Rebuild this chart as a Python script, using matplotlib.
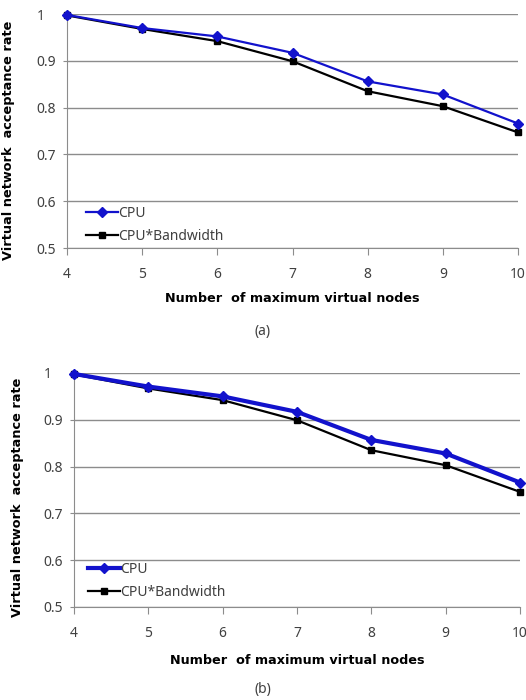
import matplotlib
matplotlib.use("Agg")
from matplotlib import pyplot as plt

# number of maximum virtual nodes
nodes = [4, 5, 6, 7, 8, 9, 10]
# acceptance rate, panel (a)
cpu_a = [0.998, 0.970, 0.952, 0.917, 0.856, 0.828, 0.766]
cpu_bw_a = [0.997, 0.968, 0.942, 0.899, 0.835, 0.803, 0.747]
# acceptance rate, panel (b)
cpu_b = [0.998, 0.971, 0.950, 0.917, 0.857, 0.828, 0.766]
cpu_bw_b = [0.997, 0.967, 0.942, 0.899, 0.835, 0.803, 0.746]
yticks = [0.5, 0.6, 0.7, 0.8, 0.9, 1]
ytick_labels = ["0.5", "0.6", "0.7", "0.8", "0.9", "1"]

W, H = 526, 700
plt.rcParams['font.family'] = ['Noto Sans', 'DejaVu Sans']
fig = plt.figure(figsize=(W / 100, H / 100), dpi=100)

def box(left, right, top, bottom):
    return [left / W, 1 - bottom / H, (right - left) / W, (bottom - top) / H]

def panel(rect, cpu, cpu_bw, cpu_lw, caption, cap_y, leg_x, leg_y, xlab_pad, ylab_xy):
    ax = fig.add_axes(rect)
    ax.set_xlim(4, 10)
    ax.set_ylim(0.5, 1.0)
    ax.set_yticks(yticks)
    ax.set_yticklabels(ytick_labels)
    ax.set_xticks(nodes)
    ax.grid(axis='y', color='#8c8c8c', linewidth=1)
    ax.set_axisbelow(True)
    for s in ['top', 'right']:
        ax.spines[s].set_visible(False)
    ax.spines['left'].set_color('#8c8c8c')
    ax.spines['bottom'].set_color('#8c8c8c')
    ax.tick_params(axis='both', colors='#8c8c8c', labelcolor='#404040',
                   labelsize=10, length=5, direction='out')
    ax.tick_params(axis='y', length=3, pad=19)
    ax.tick_params(axis='x', pad=9)
    for t in ax.get_yticklabels():
        t.set_horizontalalignment('left')
    ax.plot(nodes, cpu, color='#1212cc', marker='D', markersize=5,
            linewidth=cpu_lw, label='CPU', clip_on=False, zorder=4)
    ax.plot(nodes, cpu_bw, color='black', marker='s', markersize=5,
            linewidth=1.6, label='CPU*Bandwidth', clip_on=False, zorder=3)
    ax.set_ylabel('Virtual network  acceptance rate', fontsize=9.3,
                  fontweight='bold', family='DejaVu Sans')
    ax.yaxis.set_label_coords(*ylab_xy)
    ax.set_xlabel('Number  of maximum virtual nodes', fontsize=9.2,
                  fontweight='bold', family='DejaVu Sans', labelpad=xlab_pad)
    ax.legend(loc='lower left', bbox_to_anchor=(leg_x, leg_y), frameon=False,
              fontsize=10, handlelength=2.3, handletextpad=0.0,
              labelspacing=0.6, labelcolor='#404040', borderaxespad=0.3)
    fig.text(0.5, 1 - cap_y / H, caption, ha='center', va='center',
             fontsize=10, color='#404040')
    return ax

panel(box(67, 518, 14, 248), cpu_a, cpu_bw_a, 1.6, '(a)', 331, 0.02, -0.025, 7,
      (-0.115, 0.46))
panel(box(74, 520, 373, 607), cpu_b, cpu_bw_b, 3.0, '(b)', 690, 0.01, -0.012, 9,
      (-0.113, 0.47))

fig.savefig('out.png', dpi=100)
